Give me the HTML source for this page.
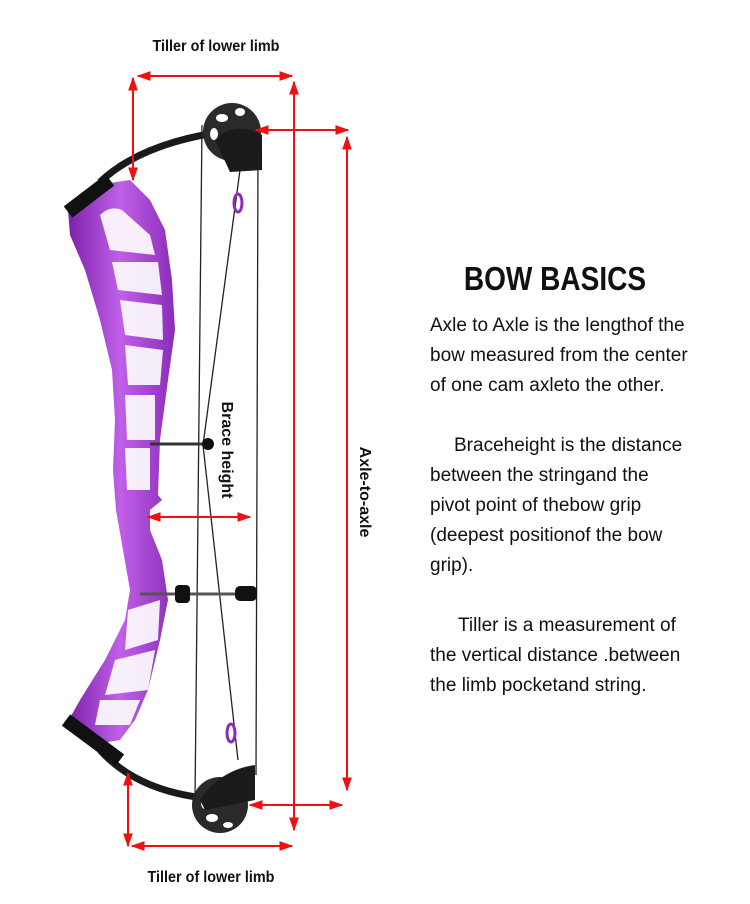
<!DOCTYPE html>
<html><head><meta charset="utf-8"><style>
body{margin:0;background:#fff;}
.t{font-family:"Liberation Sans",sans-serif;}
</style></head><body>
<svg width="750" height="899" viewBox="0 0 750 899" xmlns="http://www.w3.org/2000/svg">
<defs>
<marker id="a" viewBox="0 0 10 10" refX="9" refY="5" markerWidth="7" markerHeight="7" orient="auto-start-reverse"><path d="M0,1.5 L10,5 L0,8.5z" fill="#f01010"/></marker>
<linearGradient id="p" x1="0" y1="0" x2="1" y2="0"><stop offset="0" stop-color="#7a1fa8"/><stop offset="0.5" stop-color="#c060e8"/><stop offset="1" stop-color="#8a2cb8"/></linearGradient>
</defs>
<!-- riser -->
<path d="M68,210 L95,185 L130,180 L150,200 L165,230 L172,280 L175,330 L168,380 L160,440 L158,495 L162,500 L150,510 L150,530 L162,560 L168,600 L160,640 L148,690 L135,720 L120,740 L90,745 L66,725 L80,700 L105,660 L125,620 L130,590 L123,550 L116,510 L113,470 L115,420 L112,370 L100,320 L85,270 L70,235z" fill="url(#p)"/>
<g fill="#fff" opacity="0.9">
<path d="M100,215 Q110,205 122,210 L150,235 L155,255 L110,250z"/>
<path d="M112,262 L158,262 L162,295 L118,290z"/>
<path d="M120,300 L162,305 L163,340 L125,335z"/>
<path d="M125,345 L163,350 L160,385 L128,385z"/>
<path d="M125,395 L155,395 L155,440 L127,440z"/>
<path d="M125,448 L150,448 L150,490 L127,490z"/>
<path d="M128,610 L160,600 L158,640 L125,650z"/>
<path d="M115,660 L155,650 L148,690 L105,695z"/>
<path d="M100,700 L140,700 L130,725 L95,725z"/>
</g>
<!-- limbs -->
<path d="M100,182 Q150,135 260,128" stroke="#1a1a1a" stroke-width="7" fill="none"/>
<path d="M68,212 L110,180" stroke="#111" stroke-width="14"/>
<path d="M100,750 Q145,800 240,800" stroke="#1a1a1a" stroke-width="7" fill="none"/>
<path d="M66,720 L120,760" stroke="#111" stroke-width="14"/>
<!-- cams -->
<circle cx="232" cy="132" r="29" fill="#2a2a2a"/>
<g fill="#fff"><ellipse cx="222" cy="118" rx="6" ry="4"/><ellipse cx="240" cy="112" rx="5" ry="4"/><ellipse cx="214" cy="134" rx="4" ry="6"/></g>
<path d="M215,140 Q235,120 262,135 L262,170 L230,172z" fill="#1a1a1a"/>
<circle cx="220" cy="805" r="28" fill="#2a2a2a"/>
<g fill="#fff"><ellipse cx="212" cy="818" rx="6" ry="4"/><ellipse cx="228" cy="825" rx="5" ry="3"/><ellipse cx="205" cy="803" rx="4" ry="6"/></g>
<path d="M200,800 Q220,770 255,765 L255,800 L205,810z" fill="#1a1a1a"/>
<!-- strings -->
<g stroke="#222" stroke-width="1.3">
<line x1="202" y1="125" x2="195" y2="800"/>
<line x1="258" y1="150" x2="256" y2="775"/>
<line x1="240" y1="170" x2="203" y2="445"/>
<line x1="203" y1="445" x2="238" y2="760"/>
</g>
<ellipse cx="238" cy="203" rx="4" ry="9" fill="none" stroke="#8a2cb8" stroke-width="3"/>
<ellipse cx="231" cy="733" rx="4" ry="9" fill="none" stroke="#8a2cb8" stroke-width="3"/>
<line x1="150" y1="444" x2="210" y2="444" stroke="#333" stroke-width="3"/>
<circle cx="208" cy="444" r="6" fill="#111"/>
<line x1="140" y1="594" x2="255" y2="594" stroke="#555" stroke-width="3"/>
<rect x="175" y="585" width="15" height="18" rx="4" fill="#111"/>
<rect x="235" y="586" width="22" height="15" rx="5" fill="#111"/>
<!-- dimension lines -->
<g stroke="#f01010" stroke-width="2" fill="none">
<line x1="138" y1="76" x2="292" y2="76" marker-start="url(#a)" marker-end="url(#a)"/>
<line x1="133" y1="78" x2="133" y2="180" marker-start="url(#a)" marker-end="url(#a)"/>
<line x1="294" y1="82" x2="294" y2="830" marker-start="url(#a)" marker-end="url(#a)"/>
<line x1="256" y1="130" x2="348" y2="130" marker-start="url(#a)" marker-end="url(#a)"/>
<line x1="347" y1="137" x2="347" y2="790" marker-start="url(#a)" marker-end="url(#a)"/>
<line x1="250" y1="805" x2="342" y2="805" marker-start="url(#a)" marker-end="url(#a)"/>
<line x1="128" y1="773" x2="128" y2="846" marker-start="url(#a)" marker-end="url(#a)"/>
<line x1="132" y1="846" x2="292" y2="846" marker-start="url(#a)" marker-end="url(#a)"/>
<line x1="148" y1="517" x2="250" y2="517" marker-start="url(#a)" marker-end="url(#a)"/>
</g>
<g class="t" font-weight="bold" fill="#111">
<text x="216" y="51" font-size="16" text-anchor="middle" transform="translate(216,0) scale(0.9,1) translate(-216,0)">Tiller of lower limb</text>
<text x="211" y="882" font-size="16" text-anchor="middle" transform="translate(211,0) scale(0.9,1) translate(-211,0)">Tiller of lower limb</text>
<text x="0" y="0" font-size="16" text-anchor="middle" transform="translate(222,450) rotate(90)">Brace height</text>
<text x="0" y="0" font-size="16" text-anchor="middle" transform="translate(360,492) rotate(90)">Axle-to-axle</text>
<text x="555" y="290" font-size="33" text-anchor="middle" transform="translate(555,0) scale(0.85,1) translate(-555,0)">BOW BASICS</text>
</g>
<g class="t" font-size="19" fill="#111">
<text x="430" y="331">Axle to Axle is the lengthof the</text>
<text x="430" y="361">bow measured from the center</text>
<text x="430" y="391">of one cam axleto the other.</text>
<text x="454" y="451">Braceheight  is  the distance</text>
<text x="430" y="481">between the stringand the</text>
<text x="430" y="511">pivot point of thebow grip</text>
<text x="430" y="541">(deepest positionof the bow</text>
<text x="430" y="571">grip).</text>
<text x="458" y="631">Tiller is a measurement of</text>
<text x="430" y="661">the vertical distance .between</text>
<text x="430" y="691">the limb pocketand string.</text>
</g>
</svg>
</body></html>
